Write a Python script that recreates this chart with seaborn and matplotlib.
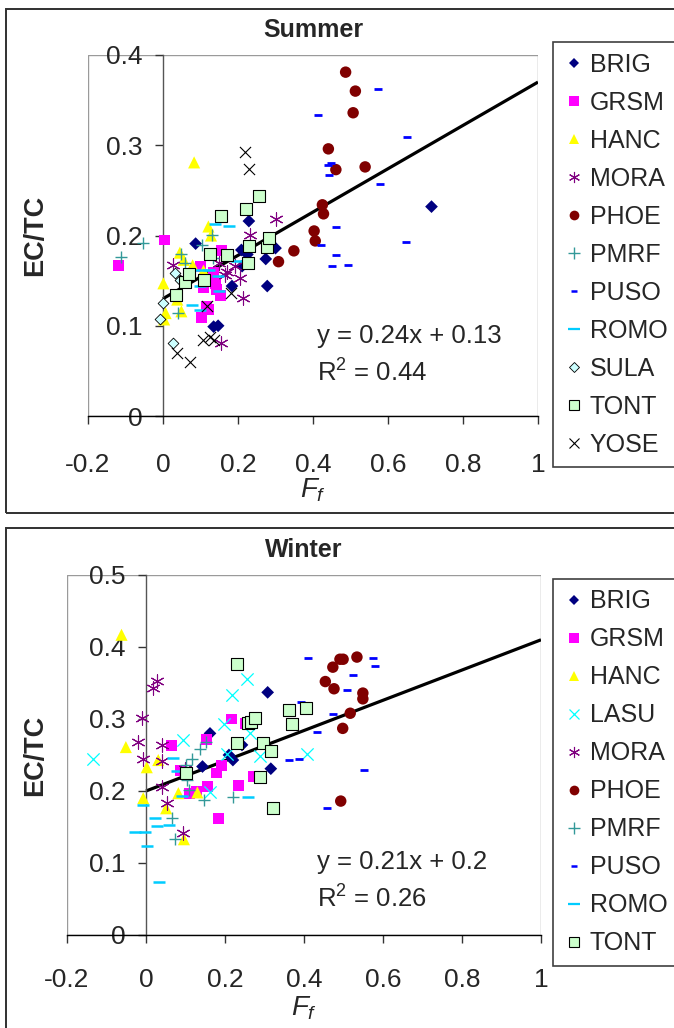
import matplotlib
matplotlib.use("Agg")
import matplotlib.pyplot as plt
from matplotlib.lines import Line2D
from matplotlib.patches import Rectangle
from matplotlib.ticker import FuncFormatter
import pandas as pd
import seaborn as sns

# ---- data: (Ff, EC/TC) pairs per site ----
summer_brig = [[0.087, 0.191], [0.135, 0.099], [0.147, 0.100], [0.184, 0.144], [0.209, 0.184], [0.211, 0.166],
               [0.225, 0.179], [0.229, 0.216], [0.274, 0.174], [0.278, 0.144], [0.300, 0.186], [0.716, 0.232]]
summer_grsm = [[-0.119, 0.167], [0.005, 0.195], [0.099, 0.166], [0.103, 0.109], [0.108, 0.142], [0.116, 0.121],
               [0.122, 0.118], [0.126, 0.150], [0.134, 0.159], [0.140, 0.147], [0.143, 0.140], [0.153, 0.133],
               [0.156, 0.183]]
summer_hanc = [[0.001, 0.147], [0.003, 0.107], [0.007, 0.114], [0.038, 0.129], [0.045, 0.181], [0.049, 0.116],
               [0.055, 0.173], [0.079, 0.167], [0.083, 0.281], [0.108, 0.161], [0.121, 0.210], [0.128, 0.200]]
summer_mora = [[0.027, 0.167], [0.150, 0.170], [0.155, 0.081], [0.165, 0.156], [0.170, 0.160], [0.192, 0.166],
               [0.205, 0.153], [0.213, 0.131], [0.232, 0.201], [0.301, 0.218]]
summer_phoe = [[0.308, 0.171], [0.349, 0.183], [0.403, 0.205], [0.406, 0.194], [0.425, 0.234], [0.428, 0.224],
               [0.441, 0.296], [0.461, 0.273], [0.487, 0.381], [0.507, 0.336], [0.513, 0.360], [0.539, 0.276]]
summer_pmrf = [[-0.113, 0.176], [-0.054, 0.192], [0.041, 0.114], [0.048, 0.179], [0.059, 0.170], [0.103, 0.190],
               [0.130, 0.201], [0.134, 0.175]]
summer_puso = [[0.413, 0.333], [0.420, 0.190], [0.441, 0.278], [0.449, 0.280], [0.442, 0.267], [0.451, 0.166],
               [0.460, 0.209], [0.460, 0.178], [0.494, 0.167], [0.572, 0.362], [0.579, 0.257], [0.649, 0.193],
               [0.651, 0.309]]
summer_romo = [[0.076, 0.123], [0.099, 0.118], [0.099, 0.144], [0.100, 0.162], [0.122, 0.162], [0.139, 0.213],
               [0.147, 0.155], [0.148, 0.138], [0.177, 0.210], [0.197, 0.172]]
summer_sula = [[-0.007, 0.107], [0.001, 0.125], [0.026, 0.081], [0.033, 0.159], [0.044, 0.151]]
summer_tont = [[0.035, 0.134], [0.059, 0.148], [0.068, 0.157], [0.110, 0.151], [0.125, 0.180], [0.155, 0.222],
               [0.170, 0.178], [0.221, 0.229], [0.226, 0.169], [0.229, 0.188], [0.256, 0.244], [0.278, 0.187],
               [0.283, 0.197]]
summer_yose = [[0.037, 0.070], [0.072, 0.060], [0.107, 0.084], [0.117, 0.122], [0.125, 0.088], [0.135, 0.084],
               [0.180, 0.136], [0.218, 0.292], [0.228, 0.274]]

winter_brig = [[0.143, 0.234], [0.162, 0.280], [0.210, 0.250], [0.220, 0.243], [0.243, 0.264], [0.308, 0.337],
               [0.316, 0.231]]
winter_grsm = [[0.065, 0.263], [0.088, 0.228], [0.111, 0.197], [0.128, 0.200], [0.152, 0.272], [0.155, 0.206],
               [0.179, 0.225], [0.183, 0.162], [0.192, 0.236], [0.217, 0.300], [0.234, 0.207], [0.251, 0.294],
               [0.272, 0.220]]
winter_hanc = [[-0.062, 0.417], [-0.051, 0.261], [-0.007, 0.190], [0.002, 0.233], [0.031, 0.243], [0.051, 0.176],
               [0.082, 0.197], [0.096, 0.133], [0.130, 0.198]]
winter_lasu = [[-0.133, 0.244], [0.094, 0.271], [0.162, 0.199], [0.197, 0.293], [0.204, 0.252], [0.217, 0.333],
               [0.255, 0.355], [0.263, 0.280], [0.289, 0.248], [0.407, 0.251]]
winter_mora = [[-0.019, 0.268], [-0.011, 0.301], [-0.007, 0.245], [0.017, 0.343], [0.029, 0.353], [0.040, 0.264],
               [0.040, 0.241], [0.040, 0.205], [0.052, 0.183], [0.093, 0.142], [0.099, 0.231]]
winter_phoe = [[0.454, 0.352], [0.473, 0.372], [0.476, 0.342], [0.491, 0.383], [0.493, 0.186], [0.498, 0.287],
               [0.499, 0.383], [0.517, 0.308], [0.534, 0.386], [0.549, 0.336], [0.549, 0.328]]
winter_pmrf = [[0.065, 0.162], [0.073, 0.134], [0.101, 0.236], [0.105, 0.215], [0.110, 0.201], [0.116, 0.245],
               [0.137, 0.258], [0.147, 0.188], [0.152, 0.268], [0.221, 0.192]]
winter_puso = [[0.363, 0.243], [0.388, 0.244], [0.392, 0.323], [0.409, 0.385], [0.434, 0.282], [0.459, 0.176],
               [0.473, 0.307], [0.508, 0.340], [0.525, 0.361], [0.553, 0.229], [0.575, 0.385], [0.580, 0.374]]
winter_romo = [[-0.028, 0.143], [-0.007, 0.181], [-0.003, 0.143], [0.002, 0.124], [0.023, 0.163], [0.027, 0.151],
               [0.033, 0.074], [0.059, 0.153], [0.069, 0.246], [0.078, 0.228], [0.091, 0.193], [0.259, 0.192]]
winter_tont = [[0.101, 0.225], [0.230, 0.266], [0.231, 0.377], [0.259, 0.294], [0.265, 0.296], [0.276, 0.301],
               [0.289, 0.220], [0.295, 0.266], [0.316, 0.255], [0.321, 0.176], [0.363, 0.313], [0.370, 0.293],
               [0.404, 0.315]]

summer_sites = ["BRIG", "GRSM", "HANC", "MORA", "PHOE", "PMRF", "PUSO", "ROMO", "SULA", "TONT", "YOSE"]
winter_sites = ["BRIG", "GRSM", "HANC", "LASU", "MORA", "PHOE", "PMRF", "PUSO", "ROMO", "TONT"]

# trendline equations printed on the chart
summer_fit = (0.24, 0.13, 0.44)
winter_fit = (0.21, 0.20, 0.26)

x_ticks = [-0.2, 0, 0.2, 0.4, 0.6, 0.8, 1]
summer_y_ticks = [0, 0.1, 0.2, 0.3, 0.4]
winter_y_ticks = [0, 0.1, 0.2, 0.3, 0.4, 0.5]


def to_frame(pairs_by_site):
    rows = []
    for site, pairs in pairs_by_site.items():
        for ff, ratio in pairs:
            rows.append({"site": site, "Ff": ff, "ECTC": ratio})
    return pd.DataFrame(rows)


summer_df = to_frame(dict(zip(summer_sites, [summer_brig, summer_grsm, summer_hanc, summer_mora, summer_phoe,
                                             summer_pmrf, summer_puso, summer_romo, summer_sula, summer_tont,
                                             summer_yose])))
winter_df = to_frame(dict(zip(winter_sites, [winter_brig, winter_grsm, winter_hanc, winter_lasu, winter_mora,
                                             winter_phoe, winter_pmrf, winter_puso, winter_romo, winter_tont])))

# marker styles (Excel-like): marker, colour, size(pt^2), edge colour, line width, legend size
ASTERISK = (6, 2, 0)
STYLES = {
    "BRIG": dict(marker="D", color="#000080", s=42, ec="none", lw=0, leg=5.5),
    "GRSM": dict(marker="s", color="#FF00FF", s=62, ec="none", lw=0, leg=7.0),
    "HANC": dict(marker="^", color="#FFFF00", s=76, ec="none", lw=0, leg=7.5),
    "LASU": dict(marker="x", color="#00FFFF", s=78, ec=None, lw=0.9, leg=7.5),
    "MORA": dict(marker=ASTERISK, color="#800080", s=90, ec=None, lw=0.8, leg=8.0),
    "PHOE": dict(marker="o", color="#800000", s=68, ec="none", lw=0, leg=7.0),
    "PMRF": dict(marker="+", color="#339999", s=70, ec=None, lw=1.0, leg=8.5),
    "PUSO": dict(marker="_", color="#0000FF", s=28, ec=None, lw=2.0, leg=4.5),
    "ROMO": dict(marker="_", color="#00CCFF", s=72, ec=None, lw=1.8, leg=8.5),
    "SULA": dict(marker="D", color="#CCFFFF", s=30, ec="black", lw=0.6, leg=5.0),
    "TONT": dict(marker="s", color="#CCFFCC", s=70, ec="black", lw=0.8, leg=6.5),
    "YOSE": dict(marker="x", color="black", s=64, ec=None, lw=0.8, leg=7.0),
}

W, H = 674, 1028


def fx(px):
    return px / W


def fy(py):
    return 1 - py / H


sns.set_style("white")
plt.rcParams["font.family"] = ["Liberation Sans", "DejaVu Sans"]
plt.rcParams["mathtext.fontset"] = "custom"
plt.rcParams["mathtext.rm"] = "Liberation Sans"
plt.rcParams["mathtext.it"] = "Liberation Sans:italic"
plt.rcParams["mathtext.bf"] = "Liberation Sans:bold"
plt.rcParams["axes.unicode_minus"] = False

fig = plt.figure(figsize=(W / 100, H / 100), dpi=100)
fig.patch.set_facecolor("white")

# outer chart frames
for top, bottom in [(9, 513), (528, 1040)]:
    fig.patches.append(Rectangle((fx(6), fy(bottom)), 1.2, fy(top) - fy(bottom), transform=fig.transFigure,
                                 fill=False, edgecolor="#303030", linewidth=1.4, clip_on=False))


def draw_panel(df, sites, fit, y_ticks, box, title, title_y, xpad, xlabel_y, eq_y, legend_top):
    left, top, right, bottom = box
    ax = fig.add_axes([fx(left), fy(bottom), fx(right) - fx(left), fy(top) - fy(bottom)])
    ax.set_facecolor("white")

    slope, intercept, r2 = fit
    fit_x = [0, 1]
    fit_y = [slope * v + intercept for v in fit_x]
    ax.plot(fit_x, fit_y, color="black", linewidth=2.3, zorder=2, solid_capstyle="butt")

    for site in sites:
        st = STYLES[site]
        kws = dict(marker=st["marker"], color=st["color"], s=st["s"], linewidth=st["lw"])
        if st["ec"] is not None:
            kws["edgecolor"] = st["ec"]
        sns.scatterplot(data=df[df["site"] == site], x="Ff", y="ECTC", ax=ax, legend=False, zorder=3, **kws)

    ax.set_xlim(-0.2, 1)
    ax.set_ylim(0, y_ticks[-1])
    ax.set_xticks(x_ticks)
    ax.set_yticks(y_ticks)
    fmt = FuncFormatter(lambda v, _: f"{v:g}")
    ax.xaxis.set_major_formatter(fmt)
    ax.yaxis.set_major_formatter(fmt)
    ax.set_xlabel("")
    ax.set_ylabel("")

    # grey plot-area box, y axis crossing at Ff = 0
    ax.add_patch(Rectangle((0, 0), 1, 1, transform=ax.transAxes, fill=False, edgecolor="#9a9a9a",
                           linewidth=1.0, zorder=0.5))
    for side in ["top", "right"]:
        ax.spines[side].set_visible(False)
    ax.spines["left"].set_position(("data", 0))
    ax.spines["left"].set_color("#555555")
    ax.spines["left"].set_linewidth(1.0)
    ax.spines["bottom"].set_color("black")
    ax.spines["bottom"].set_linewidth(1.0)
    ax.tick_params(axis="y", direction="out", length=5.8, width=1.0, color="#333333", pad=9, labelsize=19)
    ax.tick_params(axis="x", direction="out", length=5.8, width=1.0, color="#333333", pad=xpad, labelsize=19)
    ax.tick_params(left=True, bottom=True)

    cx = fx((left + right) / 2)
    fig.text(cx, fy(title_y), title, ha="center", va="center", fontsize=18, fontweight="bold")
    fig.text(fx(35), fy((top + bottom) / 2), "EC/TC", rotation=90, ha="center", va="center",
             fontsize=19.5, fontweight="bold")
    fig.text(cx, fy(xlabel_y), "$F_f$", ha="center", va="center", fontsize=20)
    fig.text(fx(317), fy(eq_y), f"y = {slope:g}x + {intercept:g}", ha="left", va="center", fontsize=18.5)
    fig.text(fx(317), fy(eq_y + 37), f"R$^2$ = {r2:g}", ha="left", va="center", fontsize=18.5)

    handles = []
    for site in sites:
        st = STYLES[site]
        if st["ec"] is None:
            edge, mew = st["color"], st["lw"] * (0.9 if st["marker"] == "_" else 1.0)
        elif st["ec"] == "none":
            edge, mew = st["color"], 0
        else:
            edge, mew = st["ec"], st["lw"]
        handles.append(Line2D([], [], linestyle="none", marker=st["marker"], markersize=st["leg"],
                              markerfacecolor=st["color"], markeredgecolor=edge, markeredgewidth=mew))
    leg = fig.legend(handles, sites, loc="upper left", bbox_to_anchor=(fx(553), fy(legend_top)),
                     bbox_transform=fig.transFigure, frameon=True, fancybox=False, edgecolor="#404040",
                     framealpha=1, fontsize=18, handlelength=0.8, handletextpad=0.25, borderpad=0.42,
                     labelspacing=0.56, borderaxespad=0)
    leg.get_frame().set_linewidth(1.2)
    return ax


draw_panel(summer_df, summer_sites, summer_fit, summer_y_ticks, (88, 55, 538, 416), "Summer", 30, 21, 490, 336, 42)
draw_panel(winter_df, winter_sites, winter_fit, winter_y_ticks, (67, 575, 541, 935), "Winter", 550, 18, 1008, 862,
           579)

fig.savefig("out.png", dpi=100)
